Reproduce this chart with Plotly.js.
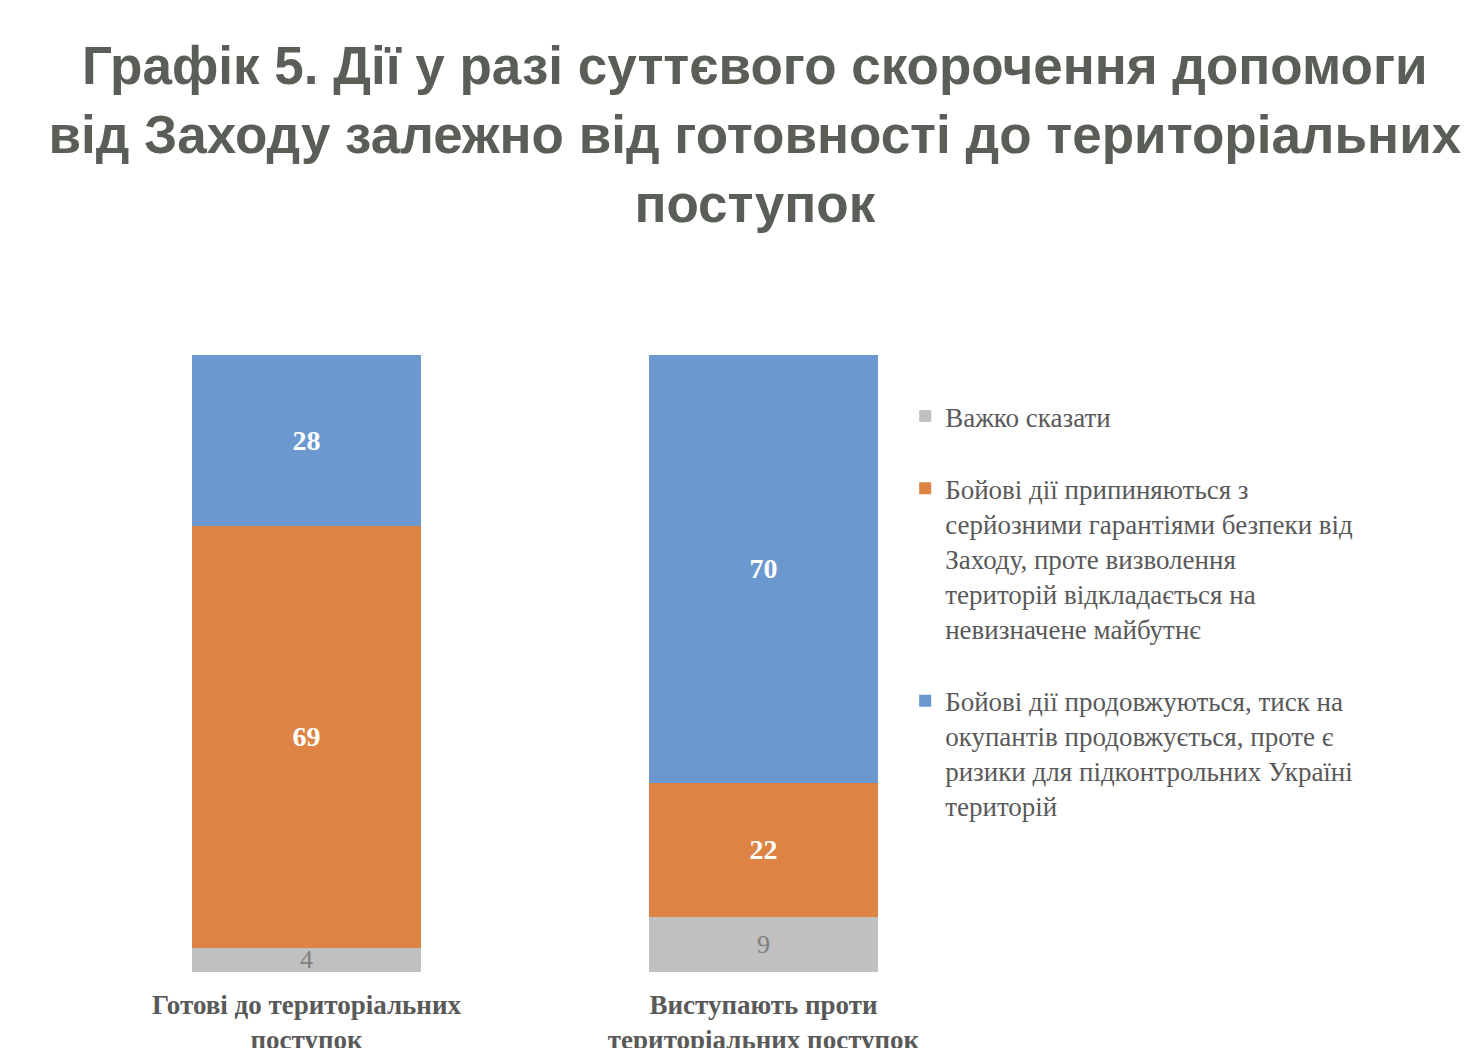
<!DOCTYPE html>
<html>
<head>
<meta charset="utf-8">
<script src="https://cdn.plot.ly/plotly-3.0.1.min.js"></script>
<style>body{margin:0;background:#fff}</style>
</head>
<body>
<div id="chart" style="width:1480px;height:1048px"></div>
<script>
var groups = ['<b>Готові до територіальних<br>поступок</b>', '<b>Виступають проти<br>територіальних поступок</b>'];
var hardToSay = [4, 9];
var ceasefire = [69, 22];
var fighting = [28, 70];

var serif = 'Liberation Serif, Times New Roman, serif';

var data = [
    {
        type: 'bar', x: groups, y: hardToSay,
        name: 'Важко сказати', legendgroup: 'c',
        marker: {color: '#c0c0c0'},
        text: hardToSay, textposition: 'inside', insidetextanchor: 'middle',
        textangle: 0, constraintext: 'none',
        textfont: {family: serif, size: 26, color: '#7f7f7f'}
    },
    {
        type: 'bar', x: groups, y: ceasefire, legendgroup: 'b',
        name: 'Бойові дії припиняються з<br>серйозними гарантіями безпеки від<br>Заходу, проте визволення<br>територій відкладається на<br>невизначене майбутнє',
        marker: {color: '#dd8444'},
        text: ceasefire.map(function (v) { return '<b>' + v + '</b>'; }),
        textposition: 'inside', insidetextanchor: 'middle', textangle: 0,
        textfont: {family: serif, size: 28, color: '#ffffff'}
    },
    {
        type: 'bar', x: groups, y: fighting, legendgroup: 'a',
        name: 'Бойові дії продовжуються, тиск на<br>окупантів продовжується, проте є<br>ризики для підконтрольних Україні<br>територій',
        marker: {color: '#6a98cf'},
        text: fighting.map(function (v) { return '<b>' + v + '</b>'; }),
        textposition: 'inside', insidetextanchor: 'middle', textangle: 0,
        textfont: {family: serif, size: 28, color: '#ffffff'}
    }
];

var layout = {
    barmode: 'stack',
    barnorm: 'percent',
    bargap: 0.5,
    paper_bgcolor: '#ffffff',
    plot_bgcolor: '#ffffff',
    margin: {l: 78, r: 488, t: 355, b: 76},
    title: {
        text: '<b>Графік 5. Дії у разі суттєвого скорочення допомоги<br>від Заходу залежно від готовності до територіальних<br>поступок</b>',
        font: {family: 'Liberation Sans, Arial, sans-serif', size: 53, color: '#595e57'},
        x: 0.51, xanchor: 'center', y: 0.92, yanchor: 'top'
    },
    xaxis: {
        showgrid: false, showline: false, zeroline: false, ticks: '',
        tickfont: {family: serif, size: 27, color: '#595959'},
        ticklabelstandoff: 14
    },
    yaxis: {visible: false, range: [0, 100]},
    showlegend: true,
    legend: {
        x: 0.905, y: 0.94, xanchor: 'left', yanchor: 'top',
        traceorder: 'reversed+grouped',
        tracegroupgap: 34,
        valign: 'top',
        itemwidth: 30,
        font: {family: serif, size: 27, color: '#595959'}
    },
    font: {family: serif}
};

Plotly.newPlot('chart', data, layout, {displayModeBar: false});
</script>
</body>
</html>
